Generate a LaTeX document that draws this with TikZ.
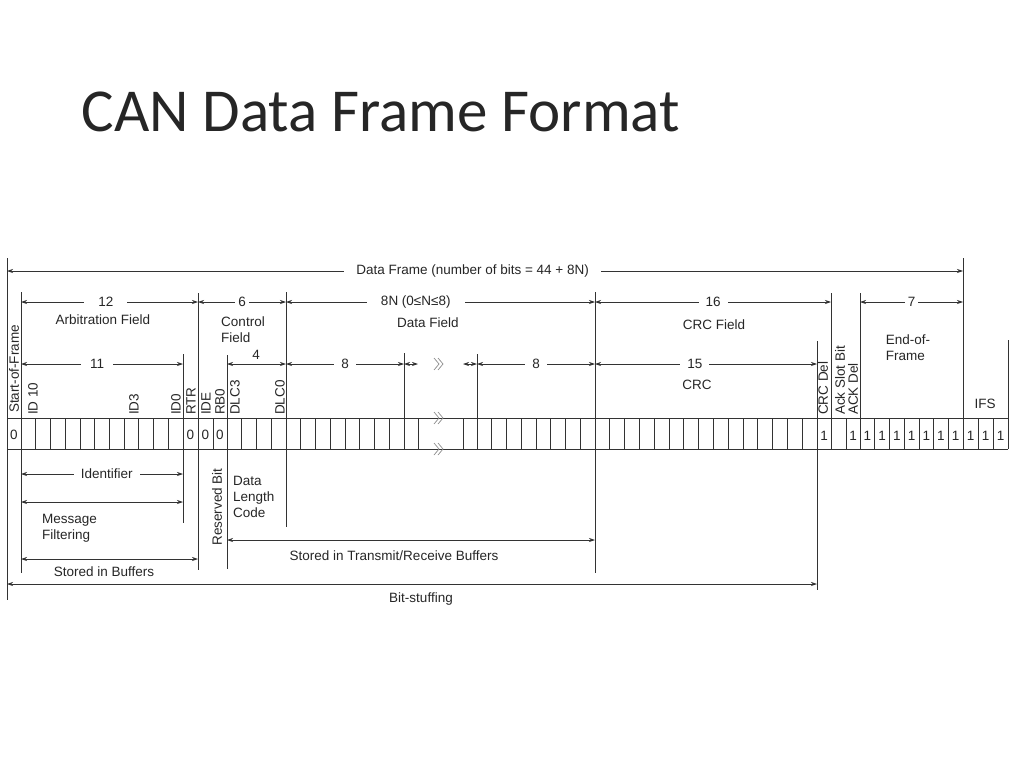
\documentclass[tikz,border=0pt]{standalone}
\usepackage{fontspec}
\setmainfont{Liberation Sans}
\newfontfamily\titlefont{Carlito}
\usetikzlibrary{arrows.meta}
\begin{document}
\begin{tikzpicture}[x=1pt,y=-1pt,
  ln/.style={line width=0.7pt,black!80},
  dim/.style={line width=0.7pt,black!80,{Stealth[length=6pt,width=4pt]}-{Stealth[length=6pt,width=4pt]}},
  lbl/.style={font=\fontsize{13.5}{15}\selectfont,text=black!85,inner sep=2pt},
  mid/.style={lbl,fill=white,inner ysep=3pt,inner xsep=7pt},
  rot/.style={lbl,rotate=90,anchor=west,inner sep=0pt},
  bit/.style={lbl,inner sep=0pt},
  squig/.style={line width=0.7pt,black!45}]
\useasboundingbox (0,0) rectangle (1024,768);
\node[anchor=west,font=\titlefont\fontsize{61}{66}\selectfont,text=black!85] (title) at (78,112) {CAN Data Frame Format};
% bit row
\draw[ln] (7,418) -- (1008,418) (7,449) -- (1008,449);
\foreach \x in {7,21,198,213,418,463,831,846} \draw[ln] (\x,418) -- (\x,449);
\foreach \k in {1,...,11} \draw[ln] ({21+14.727*\k},418) -- ({21+14.727*\k},449);
\foreach \k in {0,...,4} \draw[ln] ({227+14.75*\k},418) -- ({227+14.75*\k},449);
\foreach \k in {1,...,8} \draw[ln] ({286+14.75*\k},418) -- ({286+14.75*\k},449);
\foreach \k in {0,...,8} \draw[ln] ({477+14.75*\k},418) -- ({477+14.75*\k},449);
\foreach \k in {1,...,15} \draw[ln] ({595+14.8*\k},418) -- ({595+14.8*\k},449);
\foreach \k in {0,...,7} \draw[ln] ({860+14.714*\k},418) -- ({860+14.714*\k},449);
\foreach \k in {1,...,3} \draw[ln] ({963+15*\k},418) -- ({963+15*\k},449);
% bit values
\foreach \x in {14,190.5,205.5,220} \node[bit] at (\x,435) {0};
\foreach \x in {824,853} \node[bit] at (\x,436) {1};
\foreach \k in {0,...,6} \node[bit] at ({867.4+14.714*\k},436) {1};
\foreach \k in {0,...,2} \node[bit] at ({970.5+15*\k},436) {1};
% extension lines
\draw[ln] (7,258) -- (7,600);
\draw[ln] (21,292) -- (21,418) (21,449) -- (21,573);
\draw[ln] (183,354) -- (183,418) (183,449) -- (183,523);
\draw[ln] (198,293) -- (198,418) (198,449) -- (198,570);
\draw[ln] (227,355) -- (227,418) (227,449) -- (227,569);
\draw[ln] (286,292) -- (286,418) (286,449) -- (286,527);
\draw[ln] (404,353) -- (404,418);
\draw[ln] (477,354) -- (477,418);
\draw[ln] (595,292) -- (595,418) (595,449) -- (595,573);
\draw[ln] (817,341) -- (817,418) (817,449) -- (817,590);
\draw[ln] (831,293) -- (831,418);
\draw[ln] (860,293) -- (860,418);
\draw[ln] (963,258) -- (963,418);
\draw[ln] (1008,340) -- (1008,418);
% top dimension arrows
\draw[dim] (7,271) -- (963,271) node[mid,pos=0.487,inner xsep=12pt] {Data Frame (number of bits = 44 + 8N)};
\draw[dim] (21,302) -- (198,302) node[mid,pos=0.48,inner xsep=14pt] {12};
\draw[dim] (198,302) -- (286,302) node[mid,pos=0.5,inner xsep=3pt] {6};
\draw[dim] (286,302) -- (595,302) node[mid,pos=0.42,inner xsep=14pt] {8N (0≤N≤8)};
\draw[dim] (595,302) -- (831,302) node[mid,pos=0.5] {16};
\draw[dim] (860,302) -- (963,302) node[mid,pos=0.5,inner xsep=3pt] {7};
\node[lbl] at (103,320) {Arbitration Field};
\node[lbl,align=left] at (243,330) {Control\\[1pt]Field};
\node[lbl] at (428,323) {Data Field};
\node[lbl] at (714,325) {CRC Field};
\node[lbl,align=left] at (908,348) {End-of-\\[1pt]Frame};
\draw[dim] (21,364) -- (183,364) node[mid,pos=0.47,inner xsep=9pt] {11};
\draw[dim] (227,364) -- (286,364);
\node[lbl] at (256,355) {4};
\draw[dim] (286,364) -- (404,364) node[mid,pos=0.5] {8};
\draw[dim] (404,364) -- (418,364);
\draw[dim] (463,364) -- (477,364);
\draw[dim] (477,364) -- (595,364) node[mid,pos=0.5] {8};
\draw[dim] (595,364) -- (817,364) node[mid,pos=0.45] {15};
\node[lbl] at (697,385) {CRC};
\node[lbl] at (985,404) {IFS};
% squiggles
\foreach \y in {364,418,449} {
  \draw[squig] (434,\y-6) -- (439,\y) -- (434,\y+6);
  \draw[squig] (438,\y-6) -- (443,\y) -- (438,\y+6);
}
% rotated labels
\node[rot] at (14,413) {Start-of-Frame};
\node[rot] at (33,415) {ID 10};
\node[rot] at (134,415) {ID3};
\node[rot] at (176,415) {ID0};
\node[rot] at (191,415) {RTR};
\node[rot] at (206,415) {IDE};
\node[rot] at (220,415) {RB0};
\node[rot] at (235,415) {DLC3};
\node[rot] at (280,415) {DLC0};
\node[rot] at (823,415) {CRC Del};
\node[rot] at (840,415) {Ack Slot Bit};
\node[rot] at (853,415) {ACK Del};
% bottom
\draw[dim] (21,474) -- (183,474) node[mid,pos=0.53] {Identifier};
\draw[dim] (21,502) -- (183,502);
\node[lbl,align=left,anchor=west] at (40,528) {Message\\[1pt]Filtering};
\node[rot,anchor=center] at (217,507) {Reserved Bit};
\node[lbl,align=left,anchor=west] at (231,497) {Data\\[1pt]Length\\[1pt]Code};
\draw[dim] (21,559) -- (198,559);
\node[lbl] at (104,572) {Stored in Buffers};
\draw[dim] (227,540) -- (595,540);
\node[lbl] at (394,556) {Stored in Transmit/Receive Buffers};
\draw[dim] (7,584) -- (817,584);
\node[lbl] at (421,599) {Bit-stuffing};
\end{tikzpicture}
\end{document}
